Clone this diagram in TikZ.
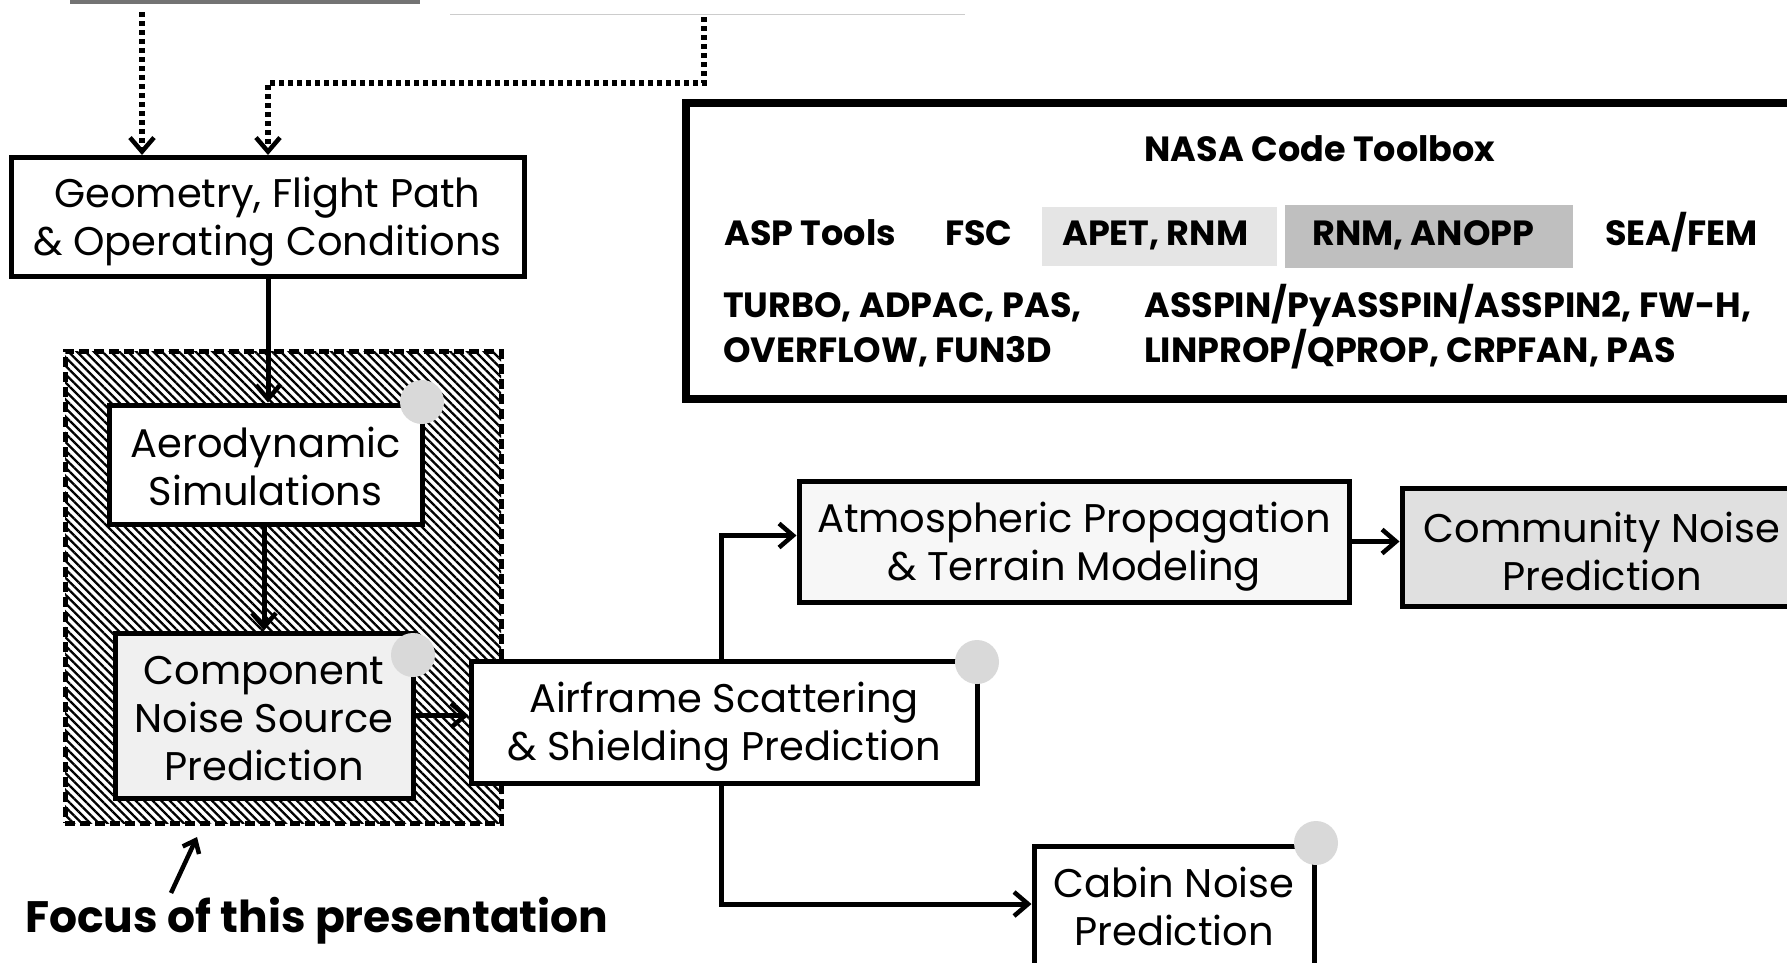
\documentclass[tikz,border=0pt]{standalone}
\usepackage{fontspec}
\setmainfont{Poppins}
\usetikzlibrary{arrows.meta,patterns.meta,calc}
\newcommand\topstrut{\rule{0pt}{40pt}}
\newcommand\midstrut{\rule{0pt}{34pt}}
\newcommand\botstrut{\rule[-9pt]{0pt}{9pt}}
\begin{document}
\begin{tikzpicture}[x=1pt,y=-1pt,
  box/.style={draw=black,line width=5pt,fill=white,align=center,inner sep=0pt,font=\fontsize{40}{48}\selectfont},
  tip/.style={-{Straight Barb[length=14pt,width=24pt,line width=4.5pt]}},
  arr/.style={tip,line width=5pt},
  dotarr/.style={tip,line width=5.5pt,dash pattern=on 5pt off 4pt},
  tool/.style={anchor=base west,inner sep=0pt,font=\bfseries\fontsize{35}{45}\selectfont},
  blob/.style={fill=black!15},
  hatch/.style={draw=black,line width=5pt,dash pattern=on 10pt off 5pt,
    pattern={Lines[angle=-45,distance=6pt,line width=2.3pt]},inner sep=0pt}
]
\useasboundingbox (0,0) rectangle (1787,962);

% cut-off elements at the top
\fill[black!55] (70,0) rectangle (420,4);
\draw[black!20,line width=1pt] (450,14) -- (965,14);

% focus region
\node[hatch,minimum width=436pt,minimum height=472pt] (focus) at (283,587) {};

% boxes
\node[box,minimum width=513pt,minimum height=119pt] (geo) at (267.5,217)
  {\topstrut Geometry, Flight Path\\\& Operating Conditions};
\node[box,minimum width=313pt,minimum height=119pt] (aero) at (265.5,464.5)
  {\midstrut Aerodynamic\\Simulations};
\node[box,fill=black!6,minimum width=298pt,minimum height=165pt] (comp) at (264,715.5)
  {\midstrut Component\\Noise Source\\Prediction};
\node[box,minimum width=506pt,minimum height=122pt] (airf) at (724,722)
  {\topstrut Airframe Scattering\\\& Shielding Prediction};
\node[box,fill=black!3,minimum width=550pt,minimum height=121pt] (atmo) at (1074,541.5)
  {\topstrut Atmospheric Propagation\\\& Terrain Modeling};
\node[box,fill=black!12,minimum width=400pt,minimum height=118pt] (comm) at (1602,547)
  {\topstrut Community Noise\\Prediction};
\node[box,minimum width=280pt,minimum height=130pt] (cabin) at (1174,911)
  {Cabin Noise\\Prediction\botstrut};

% NASA code toolbox
\node[draw=black,line width=8pt,minimum width=1130pt,minimum height=296pt,inner sep=0pt] (nasa) at (1251,251) {};
\fill[black!10] (1042,207) rectangle (1277,266);
\fill[black!25] (1285,205) rectangle (1573,268);
\node[anchor=base,inner sep=0pt,font=\bfseries\fontsize{35}{45}\selectfont] (title) at (1320,161) {NASA Code Toolbox};
\node[tool] (asp) at (724,245) {ASP Tools};
\node[tool] (fsc) at (945,245) {FSC};
\node[tool] (apet) at (1062,245) {APET, RNM};
\node[tool] (anopp) at (1312,245) {RNM, ANOPP};
\node[tool] (sea) at (1605,245) {SEA/FEM};
\node[tool,align=left] (turbo) at (723,362) {TURBO, ADPAC, PAS,\\OVERFLOW, FUN3D};
\node[tool,align=left] (asspin) at (1144,362) {ASSPIN/PyASSPIN/ASSPIN2, FW-H,\\LINPROP/QPROP, CRPFAN, PAS};

% glow marks
\fill[blob] (422,402) circle[radius=22pt];
\fill[blob] (413,655) circle[radius=22pt];
\fill[blob] (977,662) circle[radius=22pt];
\fill[blob] (1316,843) circle[radius=22pt];

% dotted inputs
\coordinate (in1) at (142,12);
\coordinate (in2) at (704,17);
\draw[dotarr] (in1) -- (in1 |- geo.north);
\draw[dotarr] (in2) |- (268,83) -- (268,0 |- geo.north);

% flow connectors
\draw[arr] (geo.south -| 268,0) -- (268,0 |- aero.north);
\draw[arr] (aero.south -| 264,0) -- (264,0 |- comp.north);
\draw[arr] (comp.east) -- (comp.east -| airf.west);
\draw[arr] (airf.north -| 721,0) |- ($(atmo.west)+(0,-6)$);
\draw[arr] (atmo.east) -- (atmo.east -| comm.west);
\draw[arr] (airf.south -| 721,0) |- ($(cabin.west)+(0,-7)$);

% focus label
\node[anchor=base west,inner sep=0pt,font=\bfseries\fontsize{44}{50}\selectfont] (flabel) at (25,932) {Focus of this presentation};
\coordinate (ftip) at (197,837);
\draw[line width=4.5pt,-{Straight Barb[length=11pt,width=18pt,line width=4.5pt]}] (171,893) -- (ftip);
\end{tikzpicture}
\end{document}
